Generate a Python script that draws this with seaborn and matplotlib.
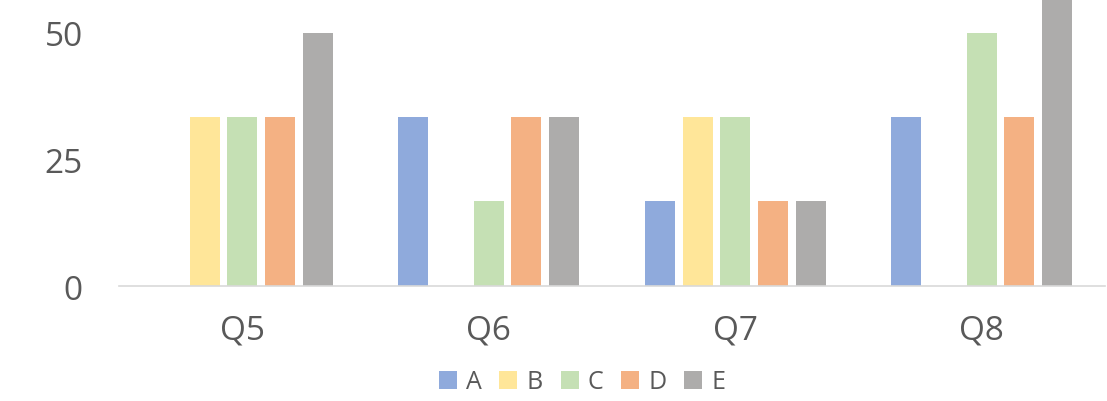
import matplotlib
matplotlib.use("Agg")
import matplotlib.pyplot as plt
import seaborn as sns
import pandas as pd

# Response shares (%) per question and option
questions = ["Q5", "Q6", "Q7", "Q8"]
options = ["A", "B", "C", "D", "E"]
share_a = [0.0, 33.3, 16.7, 33.3]
share_b = [33.3, 0.0, 33.3, 0.0]
share_c = [33.3, 16.7, 33.3, 50.0]
share_d = [33.3, 33.3, 16.7, 33.3]
share_e = [50.0, 33.3, 16.7, 66.7]
y_ticks = [0, 25, 50]

colors = ["#8FAADC", "#FFE699", "#C5E0B4", "#F4B183", "#ADACAB"]

rows = []
for opt, vals in zip(options, [share_a, share_b, share_c, share_d, share_e]):
    for q, v in zip(questions, vals):
        rows.append({"question": q, "option": opt, "share": v})
df = pd.DataFrame(rows)

sns.set_style("white")
plt.rcParams["font.family"] = ["Open Sans", "DejaVu Sans"]

fig = plt.figure(figsize=(11.07, 4.02), dpi=100)
ax = fig.add_axes([119 / 1107, 115 / 402, (1105 - 119) / 1107, 287 / 402])

sns.barplot(
    data=df, x="question", y="share", hue="option",
    order=questions, hue_order=options, palette=colors, saturation=1,
    width=0.764, gap=0.2, linewidth=0, ax=ax, legend=True,
)

ax.set_xlim(-0.5, len(questions) - 0.5)
ax.set_ylim(0, 56.7)
ax.set_yticks(y_ticks)
ax.set_xlabel("")
ax.set_ylabel("")

text_color = "#595959"
ax.tick_params(axis="y", length=0, pad=26, labelsize=24, labelcolor=text_color)
ax.tick_params(axis="x", length=0, pad=20, labelsize=24, labelcolor=text_color)

for side in ["top", "right", "left"]:
    ax.spines[side].set_visible(False)
ax.spines["bottom"].set_color("#D9D9D9")
ax.spines["bottom"].set_linewidth(1.2)

handles, labels = ax.get_legend_handles_labels()
ax.get_legend().remove()
fig.legend(
    handles, labels, loc="center", ncol=5, frameon=False,
    bbox_to_anchor=(582 / 1107, 19 / 402),
    handlelength=0.72, handleheight=0.72, handletextpad=0.36,
    columnspacing=0.72, fontsize=18, labelcolor=text_color,
)

fig.savefig("out.png", dpi=100)
